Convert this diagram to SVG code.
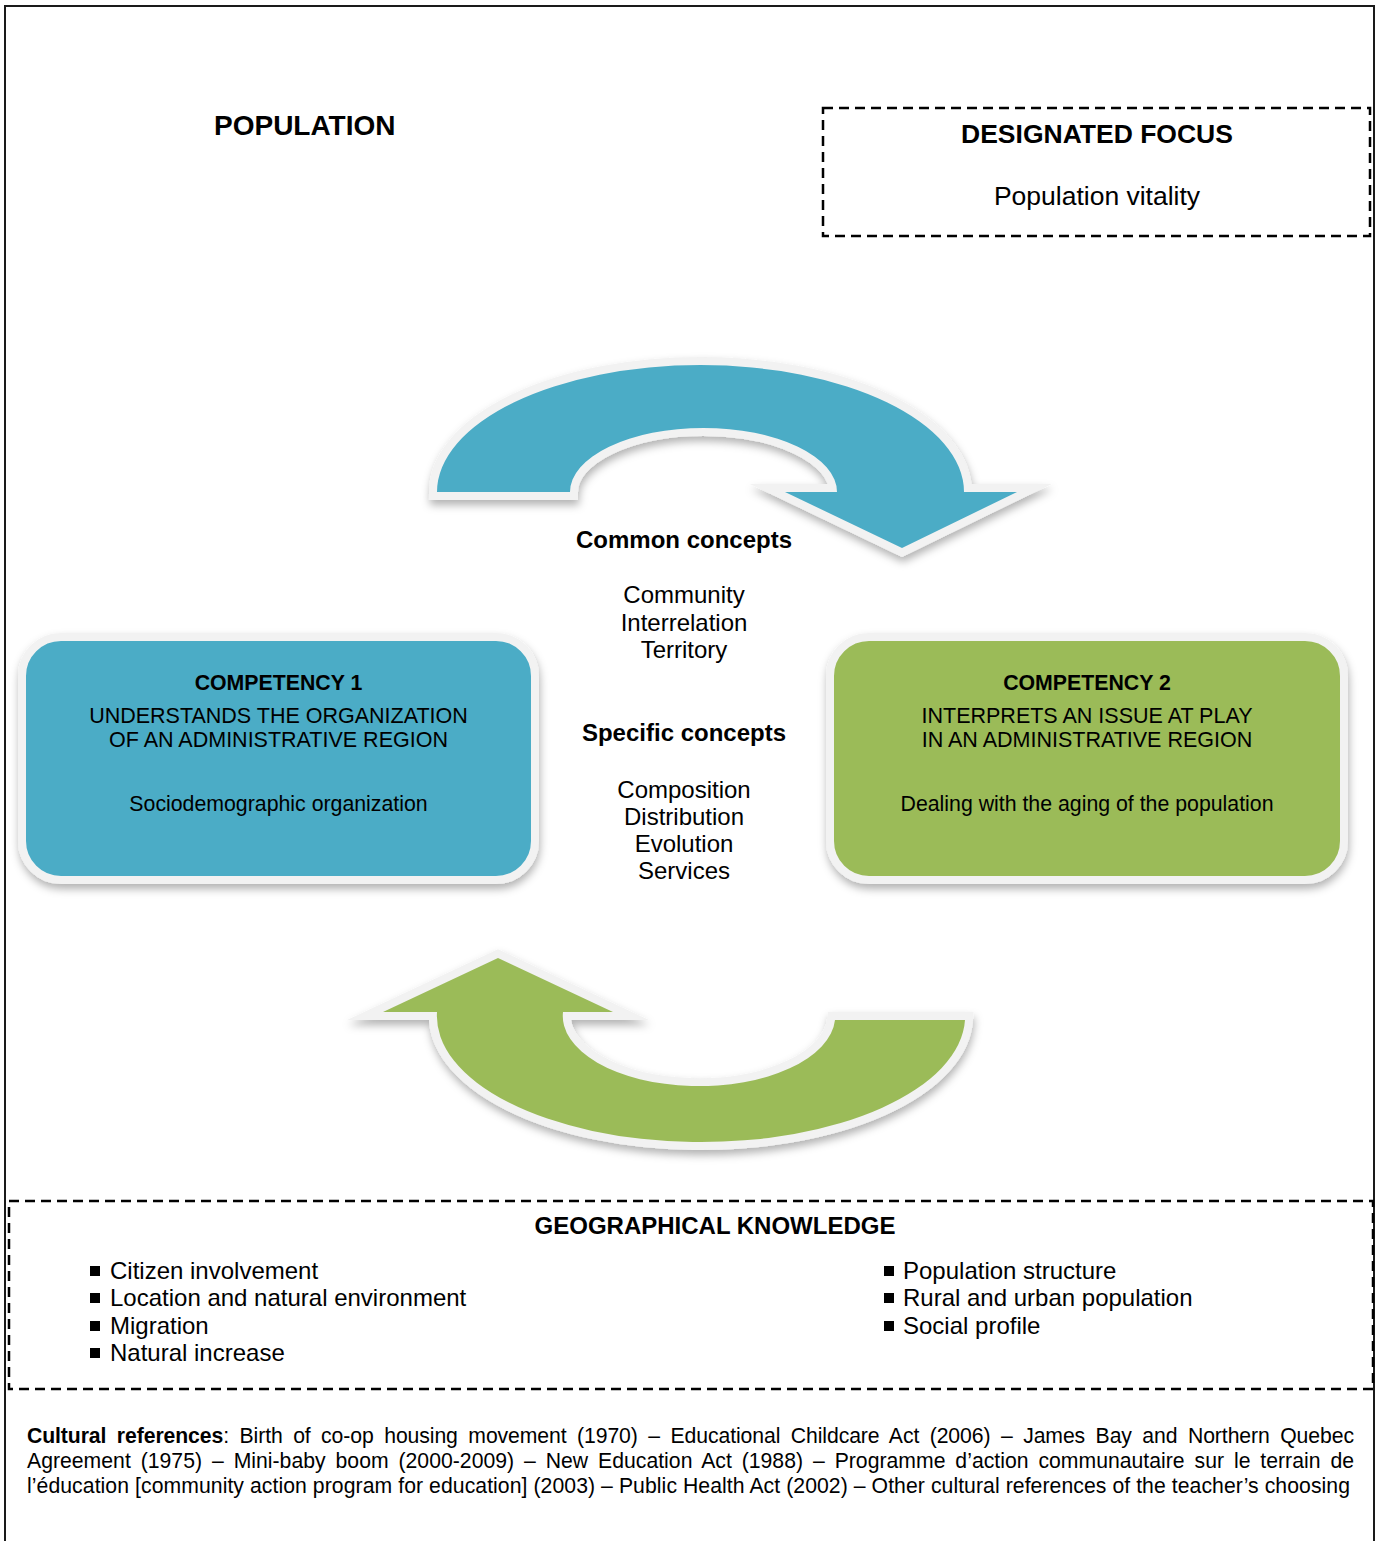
<svg xmlns="http://www.w3.org/2000/svg" width="1377" height="1541" viewBox="0 0 1377 1541">
<style>
text{font-family:"Liberation Sans",Arial,sans-serif;fill:#000}
.b{font-weight:bold}
.c{text-anchor:middle}
.dash{fill:none;stroke:#000;stroke-width:2.5;stroke-dasharray:10 6}
.shape{stroke:#f2f2f2;stroke-width:16;stroke-linejoin:miter;stroke-miterlimit:10;paint-order:stroke}
</style>
<defs>
<filter id="sh" x="-10%" y="-10%" width="120%" height="130%">
<feDropShadow dx="1" dy="5" stdDeviation="4" flood-color="#000" flood-opacity="0.3"/>
</filter>
</defs>
<rect width="1377" height="1541" fill="#fff"/>
<path d="M5,1541 V6 H1374 V1541" fill="none" stroke="#1a1a1a" stroke-width="2"/>

<g id="title"><text class="b" x="214" y="135" font-size="28">POPULATION</text></g>

<g id="designated-focus">
<rect class="dash" x="823" y="108" width="547" height="128"/>
<text class="b c" x="1097" y="143" font-size="26.5">DESIGNATED FOCUS</text>
<text class="c" x="1097" y="205" font-size="26.5">Population vitality</text>
</g>

<g id="connectors">
<g id="arrow-top" filter="url(#sh)">
<path class="shape" fill="#4bacc6" d="M437,492 A263.5,127 0 0 1 964,492 L1017,492 L902,548 L785,492 L837,492 A133.5,64 0 0 0 570,492 Z"/>
</g>
<g id="arrow-bottom" filter="url(#sh)">
<path class="shape" fill="#9bbb59" d="M383,1012 L498,958 L613,1012 L563,1012 A136,70 0 0 0 835,1020 L965,1020 A264,126 0 0 1 437,1012 Z"/>
</g>
</g>

<g id="competency-1">
<rect x="22" y="637" width="513" height="243" rx="39" fill="#4bacc6" stroke="#f2f2f2" stroke-width="8" filter="url(#sh)"/>
<text class="b c" x="278.5" y="690" font-size="21.3">COMPETENCY 1</text>
<text class="c" x="278.5" y="723" font-size="21.5">UNDERSTANDS THE ORGANIZATION</text>
<text class="c" x="278.5" y="747" font-size="21.5">OF AN ADMINISTRATIVE REGION</text>
<text class="c" x="278.5" y="811" font-size="21.3">Sociodemographic organization</text>
</g>

<g id="competency-2">
<rect x="830" y="637" width="514" height="243" rx="39" fill="#9bbb59" stroke="#f2f2f2" stroke-width="8" filter="url(#sh)"/>
<text class="b c" x="1087" y="690" font-size="21.3">COMPETENCY 2</text>
<text class="c" x="1087" y="723" font-size="21.5">INTERPRETS AN ISSUE AT PLAY</text>
<text class="c" x="1087" y="747" font-size="21.5">IN AN ADMINISTRATIVE REGION</text>
<text class="c" x="1087" y="811" font-size="21.3">Dealing with the aging of the population</text>
</g>

<g id="concepts">
<text class="b c" x="684" y="548" font-size="24">Common concepts</text>
<text class="c" x="684" y="603" font-size="24">Community</text>
<text class="c" x="684" y="631" font-size="24">Interrelation</text>
<text class="c" x="684" y="658" font-size="24">Territory</text>
<text class="b c" x="684" y="741" font-size="24">Specific concepts</text>
<text class="c" x="684" y="798" font-size="24">Composition</text>
<text class="c" x="684" y="825" font-size="24">Distribution</text>
<text class="c" x="684" y="852" font-size="24">Evolution</text>
<text class="c" x="684" y="879" font-size="24">Services</text>
</g>

<g id="geographical-knowledge">
<rect class="dash" x="9" y="1201" width="1364" height="188"/>
<text class="b c" x="715" y="1234" font-size="24">GEOGRAPHICAL KNOWLEDGE</text>
<g font-size="24">
<rect x="90" y="1266" width="10" height="10"/>
<text x="110" y="1279">Citizen involvement</text>
<rect x="90" y="1293" width="10" height="10"/>
<text x="110" y="1306">Location and natural environment</text>
<rect x="90" y="1321" width="10" height="10"/>
<text x="110" y="1334">Migration</text>
<rect x="90" y="1348" width="10" height="10"/>
<text x="110" y="1361">Natural increase</text>
<rect x="884" y="1266" width="10" height="10"/>
<text x="903" y="1279">Population structure</text>
<rect x="884" y="1293" width="10" height="10"/>
<text x="903" y="1306">Rural and urban population</text>
<rect x="884" y="1321" width="10" height="10"/>
<text x="903" y="1334">Social profile</text>
</g>
</g>

<g id="cultural-references" font-size="21.2">
<text x="27" y="1443" word-spacing="4.7" textLength="1327" lengthAdjust="spacing"><tspan class="b">Cultural references</tspan>: Birth of co-op housing movement (1970) – Educational Childcare Act (2006) – James Bay and Northern Quebec</text>
<text x="27" y="1468" word-spacing="4" textLength="1327" lengthAdjust="spacing">Agreement (1975) – Mini-baby boom (2000-2009) – New Education Act (1988) – Programme d’action communautaire sur le terrain de</text>
<text x="27" y="1493" textLength="1323" lengthAdjust="spacing">l’éducation [community action program for education] (2003) – Public Health Act (2002) – Other cultural references of the teacher’s choosing</text>
</g>
</svg>
